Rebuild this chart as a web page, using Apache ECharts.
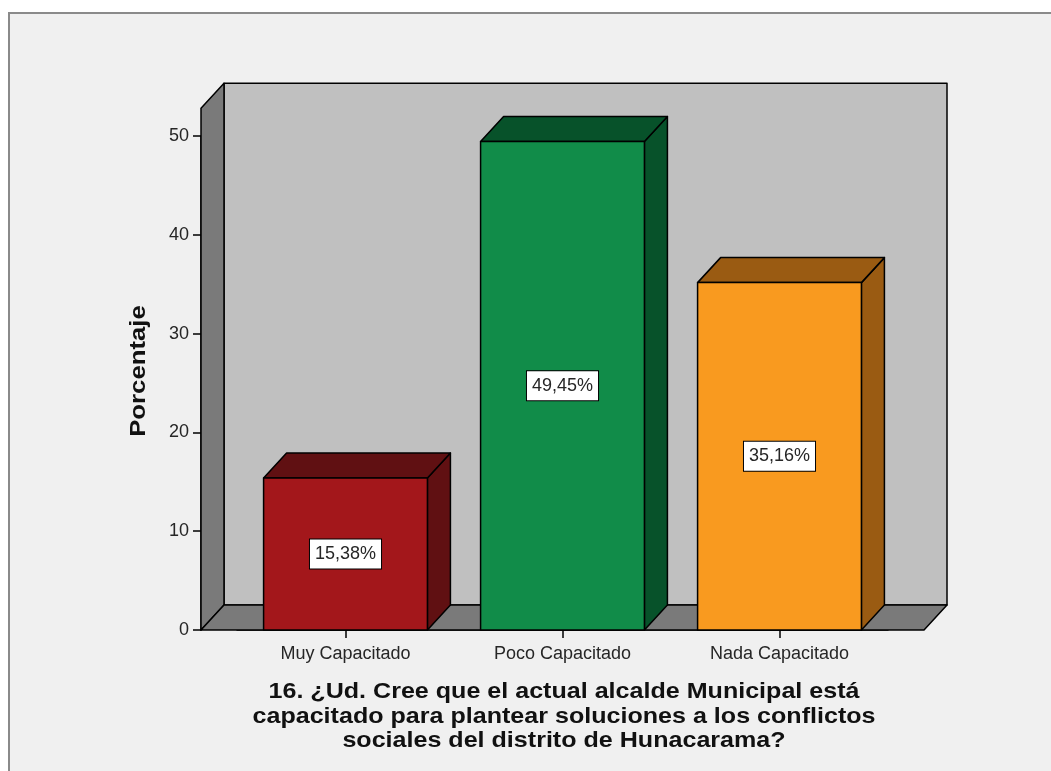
<!DOCTYPE html>
<html>
<head>
<meta charset="utf-8">
<title>Porcentaje</title>
<script src="https://cdn.jsdelivr.net/npm/echarts@6/dist/echarts.min.js"></script>
<style>
  html, body { margin: 0; padding: 0; background: #ffffff; }
  #chart { width: 1051px; height: 771px; }
</style>
</head>
<body>
<div id="chart"></div>
<script>
// datos
var categorias = ["Muy Capacitado", "Poco Capacitado", "Nada Capacitado"];
var porcentajes = [15.38, 49.45, 35.16];
var etiquetas = ["15,38%", "49,45%", "35,16%"];
var colorFrente = ["#a3171b", "#118c49", "#f99a1f"];
var colorLado = ["#601012", "#07522a", "#9a5b12"];
var titulo = [
  "16. ¿Ud. Cree que el actual alcalde Municipal está",
  "capacitado para plantear soluciones a los conflictos",
  "sociales del distrito de Hunacarama?"
];

// profundidad del efecto 3D (px)
var DX = 23, DY = -25;
var PAD = 36;        // el suelo sobresale de la banda de categorias
var TOPE = 52.8;     // altura de las paredes en unidades del eje

var chart = echarts.init(document.getElementById("chart"));

function paredes(params, api) {
  var cs = params.coordSys;
  var y0 = api.coord([0, 0])[1];
  var yT = api.coord([0, TOPE])[1];
  var xL = cs.x - PAD, xR = cs.x + cs.width + PAD;
  var borde = { stroke: "#000", lineWidth: 1.5, lineJoin: "round" };
  return {
    type: "group",
    children: [
      { type: "rect", shape: { x: xL + DX, y: yT + DY, width: xR - xL, height: y0 - yT },
        style: Object.assign({ fill: "#c0c0c0" }, borde) },
      { type: "polygon", shape: { points: [[xL, y0], [xL, yT], [xL + DX, yT + DY], [xL + DX, y0 + DY]] },
        style: Object.assign({ fill: "#7a7a7a" }, borde) },
      { type: "polygon", shape: { points: [[xL, y0], [xR, y0], [xR + DX, y0 + DY], [xL + DX, y0 + DY]] },
        style: Object.assign({ fill: "#7a7a7a" }, borde) }
    ]
  };
}

function barras(params, api) {
  var i = api.value(0);
  var v = api.value(1);
  var top = api.coord([i, v]);
  var base = api.coord([i, 0]);
  var w = api.size([1, 0])[0] * 0.755;
  var xl = top[0] - w / 2, xr = top[0] + w / 2;
  var yt = top[1], yb = base[1];
  var borde = { stroke: "#000", lineWidth: 1.5, lineJoin: "round" };
  return {
    type: "group",
    children: [
      { type: "polygon", shape: { points: [[xr, yt], [xr + DX, yt + DY], [xr + DX, yb + DY], [xr, yb]] },
        style: Object.assign({ fill: colorLado[i] }, borde) },
      { type: "polygon", shape: { points: [[xl, yt], [xl + DX, yt + DY], [xr + DX, yt + DY], [xr, yt]] },
        style: Object.assign({ fill: colorLado[i] }, borde) },
      { type: "rect", shape: { x: xl, y: yt, width: w, height: yb - yt },
        style: Object.assign({ fill: colorFrente[i] }, borde) },
      { type: "text", x: top[0], y: (yt + yb) / 2,
        style: {
          text: etiquetas[i], align: "center", verticalAlign: "middle",
          fill: "#262626", font: "18px 'Liberation Sans', Arial, sans-serif",
          lineHeight: 20, backgroundColor: "#ffffff", borderColor: "#000", borderWidth: 1,
          padding: [5, 5, 4, 5]
        } }
    ]
  };
}

chart.setOption({
  backgroundColor: "#ffffff",
  animation: false,
  grid: { left: 237, right: 163, top: 136, bottom: 141 },
  xAxis: {
    type: "category",
    data: categorias,
    axisLine: { show: true, lineStyle: { color: "#000", width: 1.5 } },
    axisTick: { show: true, alignWithLabel: true, length: 8, lineStyle: { color: "#000", width: 1.5 } },
    axisLabel: { color: "#262626", fontSize: 18, fontFamily: "'Liberation Sans', Arial, sans-serif", margin: 15 },
    splitLine: { show: false }
  },
  yAxis: {
    type: "value",
    min: 0, max: 50, interval: 10,
    offset: PAD,
    axisLine: { show: true, lineStyle: { color: "#000", width: 1.5 } },
    axisTick: { show: true, length: 8, lineStyle: { color: "#000", width: 1.5 } },
    axisLabel: { color: "#262626", fontSize: 18, fontFamily: "'Liberation Sans', Arial, sans-serif", margin: 12 },
    splitLine: { show: false }
  },
  graphic: [
    { type: "rect", z: -10, silent: true,
      shape: { x: 9, y: 13, width: 1100, height: 800 },
      style: { fill: "#f0f0f0", stroke: "#8a8a8a", lineWidth: 2 } },
    { type: "text", x: 564, y: 680, scaleX: 1.14,
      style: {
        text: titulo.join("\n"), align: "center", verticalAlign: "top",
        fill: "#111", font: "bold 22px 'Liberation Sans', Arial, sans-serif", lineHeight: 24.5
      } },
    { type: "text", x: 139, y: 371, rotation: Math.PI / 2, scaleX: 1.17,
      style: {
        text: "Porcentaje", align: "center", verticalAlign: "middle",
        fill: "#111", font: "bold 22px 'Liberation Sans', Arial, sans-serif"
      } }
  ],
  series: [
    { type: "custom", renderItem: paredes, data: [[0, 0]], silent: true, z: 1, clip: false },
    { type: "custom", renderItem: barras, z: 3, clip: false,
      data: porcentajes.map(function (v, i) { return [i, v]; }) }
  ]
});
</script>
</body>
</html>
